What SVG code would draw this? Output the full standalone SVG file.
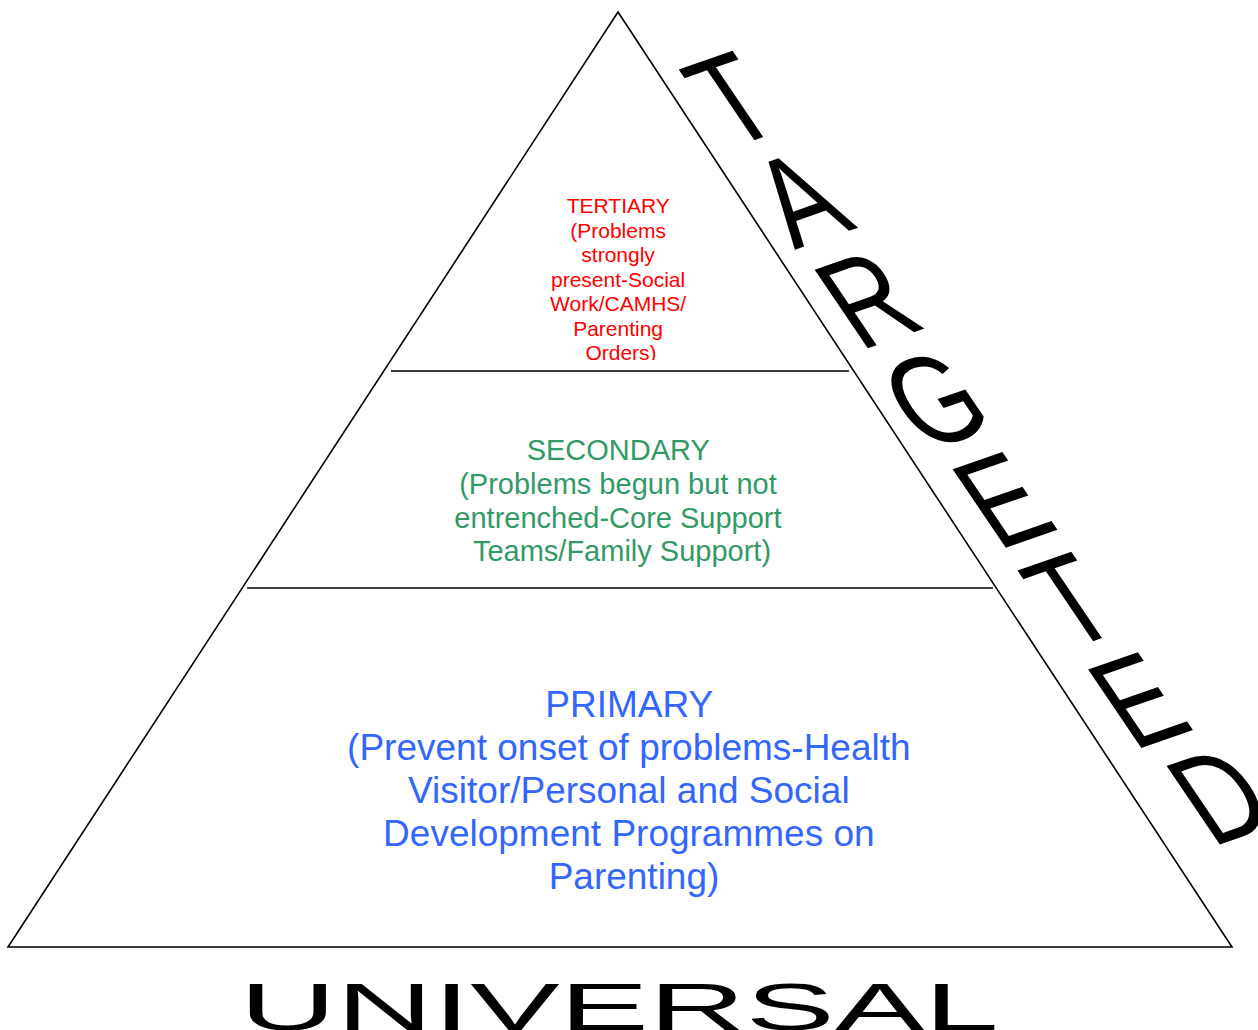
<svg xmlns="http://www.w3.org/2000/svg" width="1258" height="1030" viewBox="0 0 1258 1030">
  <style>
    .lbl { font-family: "Liberation Sans", Arial, sans-serif; text-anchor: middle; }
    .tert { fill: #ff0000; font-size: 21px; }
    .sec { fill: #339966; font-size: 29px; }
    .prim { fill: #3366ff; font-size: 37px; }
    .big { fill: #000000; }
    .edge { fill: none; stroke: #000000; stroke-width: 1.6; }
  </style>
  <defs>
    <clipPath id="tclip">
      <rect x="500" y="180" width="240" height="180"/>
    </clipPath>
  </defs>
  <rect x="0" y="0" width="1258" height="1030" fill="#ffffff"/>
  <g id="pyramid">
    <polygon class="edge" points="618,12 1232,947 8,947"/>
  </g>
  <g id="connectors">
    <line class="edge" x1="391" y1="371" x2="849" y2="371"/>
    <line class="edge" x1="247" y1="588" x2="993" y2="588"/>
  </g>
  <g id="tertiary" clip-path="url(#tclip)">
    <text class="lbl tert">
      <tspan x="621" y="213">TERTIARY</tspan>
      <tspan x="621" y="237.5">(Problems</tspan>
      <tspan x="621" y="262">strongly</tspan>
      <tspan x="621" y="286.5">present-Social</tspan>
      <tspan x="621" y="311">Work/CAMHS/</tspan>
      <tspan x="621" y="335.5">Parenting</tspan>
      <tspan x="621" y="360">Orders)</tspan>
    </text>
  </g>
  <g id="secondary">
    <text class="lbl sec">
      <tspan x="622" y="460">SECONDARY</tspan>
      <tspan x="622" y="494">(Problems begun but not</tspan>
      <tspan x="622" y="527.5">entrenched-Core Support</tspan>
      <tspan x="622" y="561">Teams/Family Support)</tspan>
    </text>
  </g>
  <g id="primary">
    <text class="lbl prim">
      <tspan x="634" y="717">PRIMARY</tspan>
      <tspan x="634" y="760">(Prevent onset of problems-Health</tspan>
      <tspan x="634" y="803">Visitor/Personal and Social</tspan>
      <tspan x="634" y="846">Development Programmes on</tspan>
      <tspan x="634" y="889">Parenting)</tspan>
    </text>
  </g>
  <g id="targeted" transform="matrix(0.69 -0.24 0.56 0.828 772 134)">
    <text class="lbl big" style="font-size:138px">
      <tspan x="0" y="0">T</tspan>
      <tspan x="0" y="121">A</tspan>
      <tspan x="0" y="242">R</tspan>
      <tspan x="0" y="363">G</tspan>
      <tspan x="0" y="484">E</tspan>
      <tspan x="0" y="605">T</tspan>
      <tspan x="0" y="726">E</tspan>
      <tspan x="0" y="847">D</tspan>
    </text>
  </g>
  <g id="universal" transform="scale(2.03 1)">
    <text class="lbl big" x="305" y="1030" style="font-size:66px">UNIVERSAL</text>
  </g>
</svg>
